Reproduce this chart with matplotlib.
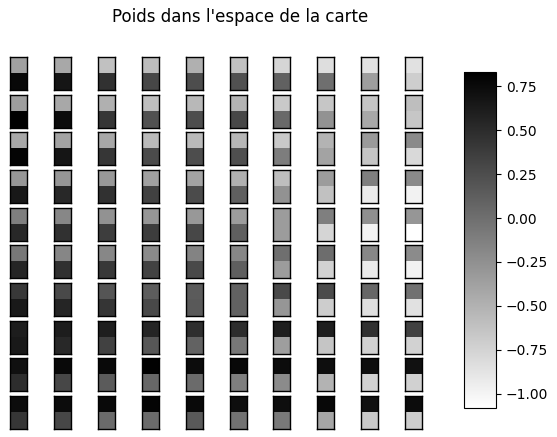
import numpy as np
import matplotlib
matplotlib.use("Agg")
import matplotlib.pyplot as plt
from matplotlib.colors import Normalize
from matplotlib.cm import ScalarMappable

title = "Poids dans l'espace de la carte"

# weight of the first input component (top half of each cell), rows x columns of the map
poids_haut = [
    [-0.37, -0.43, -0.61, -0.58, -0.49, -0.61, -0.76, -0.83, -0.86, -0.85],
    [-0.35, -0.43, -0.49, -0.59, -0.55, -0.52, -0.67, -0.65, -0.64, -0.59],
    [-0.43, -0.40, -0.43, -0.56, -0.56, -0.53, -0.67, -0.52, -0.32, -0.20],
    [-0.29, -0.29, -0.31, -0.37, -0.40, -0.49, -0.59, -0.34, -0.12, -0.20],
    [-0.12, -0.18, -0.26, -0.29, -0.31, -0.34, -0.34, -0.12, -0.24, -0.29],
    [-0.06, -0.17, -0.18, -0.20, -0.15, -0.18, 0.00, 0.01, -0.18, -0.21],
    [0.40, 0.28, 0.19, 0.13, 0.15, 0.10, 0.28, 0.27, 0.06, -0.02],
    [0.61, 0.61, 0.60, 0.55, 0.48, 0.49, 0.60, 0.60, 0.46, 0.34],
    [0.70, 0.75, 0.75, 0.81, 0.74, 0.77, 0.74, 0.72, 0.72, 0.69],
    [0.74, 0.74, 0.75, 0.80, 0.75, 0.72, 0.72, 0.77, 0.70, 0.74],
]

# weight of the second input component (bottom half of each cell)
poids_bas = [
    [0.77, 0.67, 0.45, 0.30, 0.25, 0.22, 0.10, 0.00, -0.35, -0.71],
    [0.83, 0.74, 0.42, 0.22, 0.25, 0.30, 0.04, -0.26, -0.43, -0.65],
    [0.80, 0.67, 0.42, 0.27, 0.25, 0.24, -0.11, -0.40, -0.64, -0.79],
    [0.64, 0.52, 0.45, 0.34, 0.27, 0.12, -0.26, -0.61, -0.92, -0.98],
    [0.52, 0.45, 0.37, 0.37, 0.30, 0.12, -0.34, -0.76, -0.98, -1.08],
    [0.55, 0.46, 0.40, 0.33, 0.28, 0.12, -0.34, -0.74, -0.92, -0.98],
    [0.63, 0.55, 0.43, 0.28, 0.16, 0.10, -0.29, -0.70, -0.83, -0.85],
    [0.63, 0.52, 0.34, 0.18, 0.09, -0.06, -0.35, -0.64, -0.73, -0.74],
    [0.49, 0.30, 0.15, 0.06, 0.03, -0.12, -0.21, -0.52, -0.73, -0.73],
    [0.42, 0.30, 0.03, 0.03, 0.16, -0.03, -0.08, -0.41, -0.67, -0.70],
]

haut = np.array(poids_haut)
bas = np.array(poids_bas)
nrows, ncols = haut.shape

W, H = 557, 437
fig = plt.figure(figsize=(W / 100, H / 100), dpi=100)

vmin = min(haut.min(), bas.min())
vmax = max(haut.max(), bas.max())
norm = Normalize(vmin=vmin, vmax=vmax)
cmap = "gray_r"

x0, dx, cw = 10, 43.9, 17
y0, dy, ch = 57, 37.67, 33
for i in range(nrows):
    for j in range(ncols):
        left = x0 + dx * j
        top = y0 + dy * i
        ax = fig.add_axes([left / W, 1 - (top + ch) / H, cw / W, ch / H])
        cell = np.array([[haut[i, j]], [bas[i, j]]])
        ax.imshow(cell, cmap=cmap, norm=norm, aspect="auto", interpolation="nearest")
        ax.set_xticks([])
        ax.set_yticks([])
        for s in ax.spines.values():
            s.set_linewidth(1.0)
            s.set_color("black")

cax = fig.add_axes([464 / W, 1 - 408 / H, 32 / W, 336 / H])
sm = ScalarMappable(norm=norm, cmap=cmap)
cb = fig.colorbar(sm, cax=cax, ticks=[-1.0, -0.75, -0.5, -0.25, 0.0, 0.25, 0.5, 0.75])
cb.ax.tick_params(labelsize=10)
cb.outline.set_linewidth(0.8)

fig.text(240 / W, 1 - 17 / H, title, ha="center", va="center", fontsize=12)

fig.savefig("out.png", dpi=100)
